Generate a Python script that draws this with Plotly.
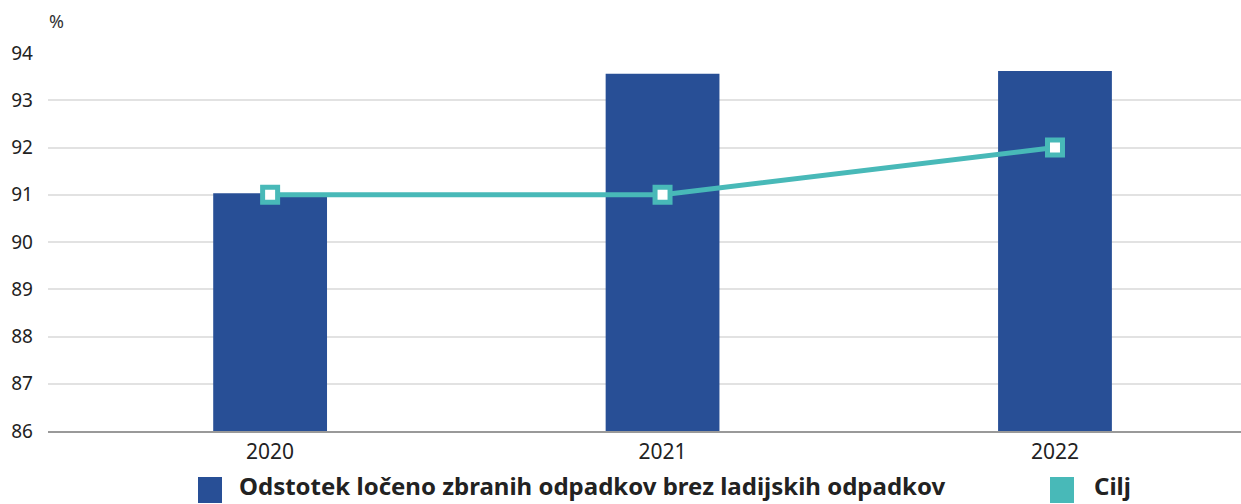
import plotly.graph_objects as go

# ======================================================
# Data
# ======================================================

years = ["2020", "2021", "2022"]
share_separated = [91.03, 93.56, 93.62]
target = [91, 91, 92]
y_ticks = [86, 87, 88, 89, 90, 91, 92, 93, 94]

bar_label = "Odstotek ločeno zbranih odpadkov brez ladijskih odpadkov"
line_label = "Cilj"

BLUE = "#284F96"
TEAL = "#48B9B8"
FONT = "Noto Sans"

W, H = 1241, 504
L, R, T, B = 48, 0, 53, 73
plot_w = W - L - R
plot_h = H - T - B


def px_x(px):
    return (px - L) / plot_w


def px_y(py):
    return (H - B - py) / plot_h


# ======================================================
# Figure
# ======================================================

fig = go.Figure()

fig.add_trace(go.Bar(
    x=years,
    y=share_separated,
    name=bar_label,
    marker=dict(color=BLUE, line=dict(width=0)),
    width=0.29,
    showlegend=False
))

fig.add_trace(go.Scatter(
    x=years,
    y=target,
    name=line_label,
    mode="lines+markers",
    line=dict(color=TEAL, width=5),
    marker=dict(symbol="square", size=15, color="white",
                line=dict(color=TEAL, width=5)),
    showlegend=False
))

# custom legend (big squares, bold text)
legend_items = [
    (bar_label, BLUE, 198, 237),
    (line_label, TEAL, 1050, 1092),
]
for label, color, sq_x, txt_x in legend_items:
    fig.add_shape(
        type="rect", xref="paper", yref="paper",
        x0=px_x(sq_x), x1=px_x(sq_x + 24),
        y0=px_y(503), y1=px_y(477),
        fillcolor=color, line=dict(width=0)
    )
    fig.add_annotation(
        text=f"<b>{label}</b>", xref="paper", yref="paper",
        x=px_x(txt_x), y=px_y(504),
        xanchor="left", yanchor="bottom", showarrow=False,
        font=dict(family=FONT, size=24, color="#222222")
    )

fig.add_annotation(
    text="%", xref="paper", yref="paper",
    x=px_x(47), y=px_y(21),
    xanchor="left", yanchor="middle", showarrow=False,
    font=dict(family=FONT, size=18, color="#333333")
)

fig.update_layout(
    width=W,
    height=H,
    margin=dict(l=L, r=R, t=T, b=B),
    plot_bgcolor="white",
    paper_bgcolor="white",
    showlegend=False,
    font=dict(family=FONT, color="#222222"),
    xaxis=dict(
        type="category",
        range=[-0.566, 2.474],
        showgrid=False,
        showline=True,
        linecolor="#999999",
        linewidth=2,
        ticks="",
        tickfont=dict(size=21, color="#222222"),
        ticklabelstandoff=1
    ),
    yaxis=dict(
        range=[86, 94],
        tickvals=y_ticks,
        showgrid=True,
        gridcolor="#E2E2E2",
        gridwidth=1.5,
        zeroline=False,
        ticks="",
        tickfont=dict(size=19, color="#222222"),
        ticklabelstandoff=14
    )
)

fig.write_html(
    "out.html",
    config={"displayModeBar": False},
    post_script="document.body.style.margin='0';document.body.style.overflow='hidden';"
)
